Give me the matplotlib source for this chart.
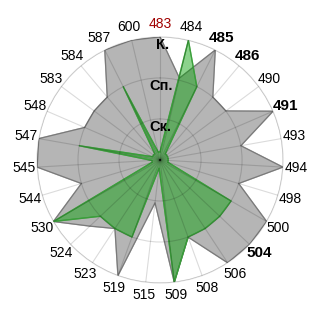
import matplotlib
matplotlib.use("Agg")
import matplotlib.pyplot as plt
import numpy as np

plt.rcParams['font.family'] = ['Liberation Sans', 'DejaVu Sans']

categories = ['483', '484', '485', '486', '490', '491', '493', '494', '498', '500',
              '504', '506', '508', '509', '515', '519', '523', '524', '530', '544',
              '545', '547', '548', '583', '584', '587', '600']
gray_vals = [3, 2.05, 3, 2, 2, 3, 2, 3, 2, 3,
             3, 3, 2, 3, 1.05, 3, 2, 2.35, 3, 2,
             3, 3, 2, 2, 2, 3, 3]
green_vals = [0.2, 3, 2, 0.2, 0.2, 0.2, 0.2, 0.2, 0.2, 2,
              2, 2, 2, 3, 0.2, 2, 2, 2, 3, 0.2,
              0.2, 2, 0.2, 0.2, 0.2, 2, 0.2]
bold_labels = ['485', '486', '491', '504']
red_labels = ['483']
level_names = ['Ск.', 'Сп.', 'К.']

n = len(categories)
theta = np.linspace(0, 2 * np.pi, n, endpoint=False)
th = np.append(theta, theta[0])

fig = plt.figure(figsize=(3.2, 3.2), dpi=100)
ax = fig.add_axes([0.1156, 0.1156, 0.769, 0.769], projection='polar')
ax.set_theta_zero_location('N')
ax.set_theta_direction(-1)

ax.fill(th, np.append(gray_vals, gray_vals[0]), color='#b5b5b5', zorder=1)
ax.plot(th, np.append(gray_vals, gray_vals[0]), color='#7a7a7a', lw=0.9, zorder=1)
ax.fill(th, np.append(green_vals, green_vals[0]), color=(0.0, 0.62, 0.0), alpha=0.45, zorder=2)
ax.plot(th, np.append(green_vals, green_vals[0]), color='#3c9c3c', lw=0.9, zorder=2)

ax.set_ylim(0, 3)
ax.set_yticks([1, 2, 3])
ax.set_yticklabels([])
ax.set_xticks(theta)
ax.set_xticklabels([])
ax.set_axisbelow(False)
ax.grid(True, color='black', alpha=0.14, lw=0.8)
ax.spines['polar'].set_color('#dcdcdc')
ax.spines['polar'].set_linewidth(0.8)
ax.spines['polar'].set_zorder(0)

for t, lab in zip(theta, categories):
    kw = dict(fontsize=10, ha='center', va='center')
    if lab in bold_labels:
        kw['fontweight'] = 'bold'
        kw['fontsize'] = 11
    if lab in red_labels:
        kw['color'] = '#a00000'
    ax.text(t, 3.32, lab, clip_on=False, **kw)

for lvl, name in zip([1, 2, 3], level_names):
    ax.text(0.02, lvl - 0.2, name, fontsize=10.5, fontweight='bold',
            ha='center', va='center', zorder=5)

fig.savefig('out.png', dpi=100)
